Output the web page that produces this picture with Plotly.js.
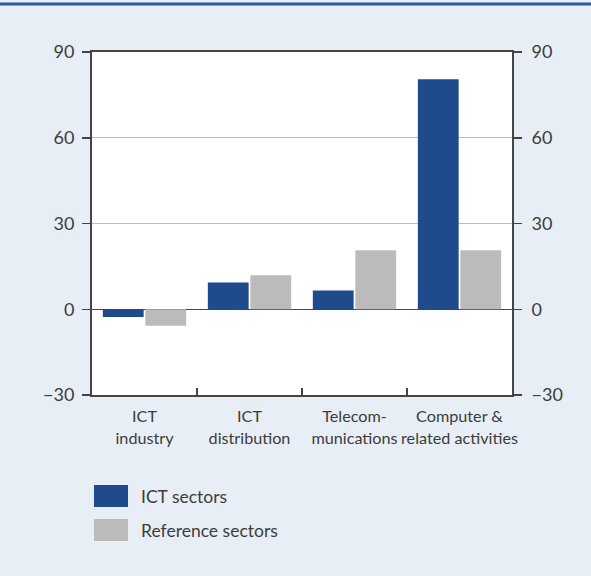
<!DOCTYPE html>
<html><head><meta charset="utf-8">
<script src="https://cdn.plot.ly/plotly-3.0.1.min.js"></script>
<style>html,body{margin:0;padding:0;background:#e8eef6;}#chart{width:591px;height:576px;}</style>
</head><body><div id="chart"></div>
<script>
const categories = ["ICT<br>industry", "ICT<br>distribution", "Telecom-<br>munications", "Computer &<br>related activities"];
const ictSectors = [-2.7, 9.4, 6.6, 80.5];
const referenceSectors = [-5.8, 11.9, 20.6, 20.6];
const seriesNames = ["ICT sectors", "Reference sectors"];
const seriesColors = ["#1f4a8b", "#bbbbbb"];
const yTicks = [-30, 0, 30, 60, 90];

const W = 591, H = 576, L = 92, R = 79, T = 52, B = 181;
const pw = W - L - R, ph = H - T - B;
const px = x => (x - L) / pw;
const py = y => (H - B - y) / ph;
const font = {family: "Lato, Noto Sans, sans-serif", size: 17.5, color: "#3c3c3c"};
const xFont = Object.assign({}, font, {size: 16.2});
const yFont = Object.assign({}, font, {size: 18});

const traces = [
  {type: "bar", x: categories, y: ictSectors, name: seriesNames[0], marker: {color: seriesColors[0]}, showlegend: false, hoverinfo: "skip"},
  {type: "bar", x: categories, y: referenceSectors, name: seriesNames[1], marker: {color: seriesColors[1]}, showlegend: false, hoverinfo: "skip"},
  {type: "scatter", mode: "none", x: categories, y: referenceSectors, yaxis: "y2", showlegend: false, hoverinfo: "skip"}
];

const shapes = [
  {type: "line", xref: "paper", yref: "paper", x0: px(0), x1: px(W), y0: py(4), y1: py(4), line: {color: "#2d5a9b", width: 3}}
];
const annotations = [];
seriesNames.forEach((n, i) => {
  const top = 485 + i * 34;
  shapes.push({type: "rect", xref: "paper", yref: "paper", x0: px(94), x1: px(128), y0: py(top), y1: py(top + 22), fillcolor: seriesColors[i], line: {width: 0}});
  annotations.push({xref: "paper", yref: "paper", x: px(139), y: py(top + 11), text: n, showarrow: false, xanchor: "left", yanchor: "middle", font: font});
});

const layout = {
  width: W, height: H,
  margin: {l: L, r: R, t: T, b: B, pad: 0},
  paper_bgcolor: "#e8eef6", plot_bgcolor: "#ffffff",
  font: font,
  barmode: "group", bargap: 0.19, bargroupgap: 0.04,
  xaxis: {type: "category", showline: true, linecolor: "#444", linewidth: 2, mirror: true, tickangle: 0,
          ticks: "inside", tickson: "boundaries", ticklen: 7, tickcolor: "#444", tickwidth: 1.5,
          showgrid: false, tickfont: xFont, fixedrange: true, ticklabelstandoff: 6},
  yaxis: {range: [-30, 90], tickvals: yTicks, ticks: "outside", ticklen: 8, tickcolor: "#444", tickwidth: 1.5,
          showline: true, linecolor: "#444", linewidth: 2, showgrid: true, gridcolor: "#bdbdbd", gridwidth: 1,
          zeroline: true, zerolinecolor: "#444", zerolinewidth: 1.5, tickfont: yFont, ticklabelstandoff: 4},
  yaxis2: {range: [-30, 90], tickvals: yTicks, overlaying: "y", side: "right", anchor: "x", ticks: "outside", ticklen: 8,
          tickcolor: "#444", tickwidth: 1.5, showline: true, linecolor: "#444", linewidth: 2, showgrid: false, zeroline: false,
          tickfont: yFont, ticklabelstandoff: 6},
  shapes: shapes, annotations: annotations, showlegend: false
};
Plotly.newPlot("chart", traces, layout, {staticPlot: true, displayModeBar: false});
</script></body></html>
